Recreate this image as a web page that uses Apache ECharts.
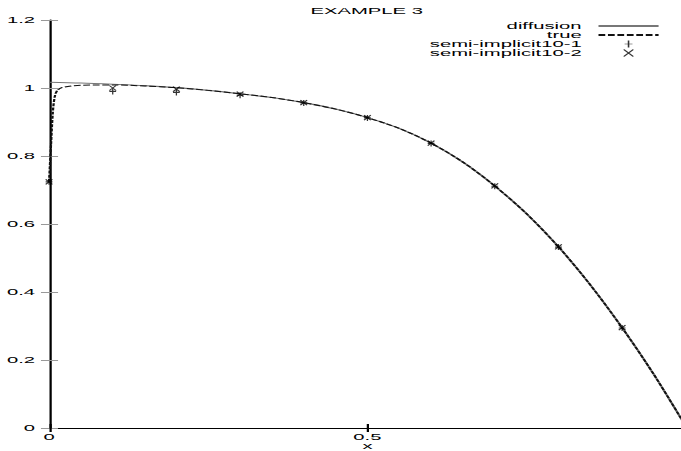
<!DOCTYPE html>
<html><head><meta charset="utf-8">
<script src="https://cdn.jsdelivr.net/npm/echarts@6/dist/echarts.min.js"></script>
<style>
html,body{margin:0;padding:0;width:681px;height:451px;overflow:hidden;background:#fff}
#wrap{width:681px;height:451px;overflow:hidden;position:relative;background:#fff}
#chart{position:absolute;left:0;top:0;width:302.67px;height:451px;transform:scaleX(2.25);transform-origin:0 0}
</style></head><body>
<div id="wrap"><div id="chart"></div></div>
<script>
// horizontal stretch of the original gnuplot picture (wide glyphs, thick vertical lines)
const S = 2.25;
const titleText = 'EXAMPLE 3';
const xAxisName = 'x';
const seriesNames = ['diffusion', 'true', 'semi-implicit10-1', 'semi-implicit10-2'];

const diffusionX = [0, 0.05, 0.1, 0.15, 0.2, 0.25, 0.3, 0.35, 0.4, 0.45, 0.5, 0.55, 0.6, 0.65, 0.7, 0.75, 0.8, 0.85, 0.9, 0.95, 1.0];
const diffusionY = [1.017, 1.0145, 1.011, 1.007, 1.001, 0.993, 0.983, 0.972, 0.957, 0.938, 0.913, 0.881, 0.838, 0.782, 0.712, 0.630, 0.533, 0.421, 0.295, 0.157, 0.005];

const trueX = [0, 0.003, 0.006, 0.009, 0.013, 0.02, 0.035, 0.05, 0.1, 0.15, 0.2, 0.25, 0.3, 0.35, 0.4, 0.45, 0.5, 0.55, 0.6, 0.65, 0.7, 0.75, 0.8, 0.85, 0.9, 0.95, 1.0];
const trueY = [0.724, 0.83, 0.93, 0.975, 0.993, 1.001, 1.006, 1.008, 1.009, 1.006, 1.001, 0.993, 0.983, 0.972, 0.957, 0.938, 0.913, 0.881, 0.838, 0.782, 0.712, 0.630, 0.533, 0.421, 0.295, 0.157, 0.005];

const semi1X = [0, 0.1, 0.2, 0.3, 0.4, 0.5, 0.6, 0.7, 0.8, 0.9];
const semi1Y = [0.724, 0.990, 0.987, 0.979, 0.956, 0.912, 0.837, 0.711, 0.532, 0.294];

const semi2X = [0, 0.1, 0.2, 0.3, 0.4, 0.5, 0.6, 0.7, 0.8, 0.9];
const semi2Y = [0.724, 1.000, 0.997, 0.982, 0.957, 0.913, 0.838, 0.712, 0.533, 0.295];

const xTickValues = [0, 0.5];
const xTickLabels = ['0', '0.5'];

const zip = (xs, ys) => xs.map((x, i) => [x, ys[i]]);
const FONT = "'Liberation Sans', Arial, Helvetica, sans-serif";

const chart = echarts.init(document.getElementById('chart'), null, { renderer: 'svg' });
chart.setOption({
  animation: false,
  backgroundColor: '#fff',
  title: {
    text: titleText,
    left: 138, top: 6, padding: 0,
    textStyle: { fontSize: 9, fontWeight: 'normal', color: '#000', fontFamily: FONT }
  },
  legend: {
    orient: 'vertical',
    right: 9.3, top: 21.5, padding: 0,
    align: 'right',
    itemWidth: 26.7, itemHeight: 7, itemGap: 0,
    formatter: n => n + ' ',
    itemStyle: { borderWidth: 0.7 },
    textStyle: { fontSize: 9, lineHeight: 9, color: '#000', fontFamily: FONT },
    data: seriesNames
  },
  grid: { left: 21.8, right: -1.8, top: 20, bottom: 23, containLabel: false, outerBoundsMode: 'none' },
  xAxis: [{
    type: 'value', min: 0, max: 1, interval: 0.5, position: 'bottom',
    name: xAxisName, nameLocation: 'middle', nameGap: 13, nameMoveOverlap: false,
    nameTextStyle: { fontSize: 9, lineHeight: 9, color: '#000', fontFamily: FONT },
    axisLine: { lineStyle: { color: '#333', width: 1 } },
    axisTick: { inside: true, length: 4, lineStyle: { color: '#000' } },
    axisLabel: {
      margin: 4, fontSize: 9, lineHeight: 9, color: '#000', fontFamily: FONT,
      formatter: v => { const i = xTickValues.indexOf(v); return i >= 0 ? xTickLabels[i] : ''; }
    },
    splitLine: { show: false }
  }, {
    type: 'value', min: 0, max: 1, interval: 0.5, position: 'top',
    axisLine: { lineStyle: { color: '#000', width: 1 } },
    axisTick: { inside: true, length: 4, lineStyle: { color: '#000' } },
    axisLabel: { show: false },
    splitLine: { show: false }
  }],
  yAxis: [{
    type: 'value', min: 0, max: 1.2, interval: 0.2, position: 'left',
    axisLine: { show: true, lineStyle: { color: '#000', width: 1 } },
    axisTick: { show: true, inside: true, length: 4, lineStyle: { color: '#999' } },
    axisLabel: { margin: 6.2, fontSize: 9, color: '#000', fontFamily: FONT },
    splitLine: { show: false }
  }, {
    type: 'value', min: 0, max: 1.2, interval: 0.2, position: 'right',
    axisLine: { show: false },
    axisTick: { show: true, inside: true, length: 3.6, lineStyle: { color: '#999' } },
    axisLabel: { show: false },
    splitLine: { show: false }
  }],
  series: [{
    name: seriesNames[0], type: 'line', data: zip(diffusionX, diffusionY),
    symbol: 'none', smooth: 0.3,
    lineStyle: { color: '#777', width: 1.1 },
    itemStyle: { color: 'transparent', borderColor: 'transparent', borderWidth: 0 }
  }, {
    name: seriesNames[1], type: 'line', data: zip(trueX, trueY),
    symbol: 'none', smooth: 0.3,
    lineStyle: { color: '#111', width: 1, type: [3, 1.2] },
    itemStyle: { color: 'transparent', borderColor: 'transparent', borderWidth: 0 }
  }, {
    name: seriesNames[2], type: 'scatter', data: zip(semi1X, semi1Y),
    symbol: 'path://M0,3L3,3M1.5,0L1.5,6', symbolSize: [3, 6],
    itemStyle: { color: 'transparent', borderColor: '#000', borderWidth: 0.8 }, z: 5
  }, {
    name: seriesNames[3], type: 'scatter', data: zip(semi2X, semi2Y),
    symbol: 'path://M0,0L3,5M0,5L3,0', symbolSize: [3, 5],
    itemStyle: { color: 'transparent', borderColor: '#000', borderWidth: 0.8 }, z: 5
  }]
});
</script>
</body></html>
